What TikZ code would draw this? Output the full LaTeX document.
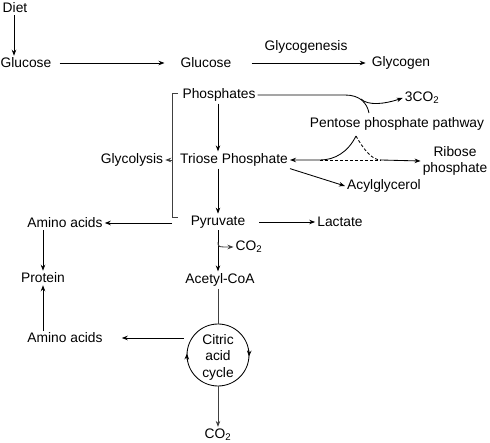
\documentclass[tikz,border=0pt]{standalone}
\usepackage{fontspec}
\setmainfont{Liberation Sans}
\usetikzlibrary{arrows.meta}
\begin{document}
\begin{tikzpicture}[x=1pt,y=-1pt,
  every node/.style={font=\fontsize{13.8}{16}\selectfont, inner sep=2pt},
  ln/.style={line width=0.85pt},
  arr/.style={ln,-{Stealth[length=6pt,width=4.5pt]}},
  gln/.style={line width=0.85pt, draw=black!75},
  garr/.style={gln,-{Stealth[length=6pt,width=4.5pt]}}]
\useasboundingbox (0,0) rectangle (490,443);
\node (diet) at (15,8) {Diet};
\node (glc1) at (26,63) {Glucose};
\node (glc2) at (206,63) {Glucose};
\node (glycogenesis) at (306,47) {Glycogenesis};
\node (glycogen) at (401,63) {Glycogen};
\node (phos) at (219,95) {Phosphates};
\node (co2a) at (422,98) {3CO\textsubscript{2}};
\node (ppp) at (397,124) {Pentose phosphate pathway};
\node (triose) at (234,160) {Triose Phosphate};
\node (glycolysis) at (132,160) {Glycolysis};
\node[align=center] (ribose) at (455,161) {Ribose\\phosphate};
\node (acyl) at (384,186) {Acylglycerol};
\node (pyr) at (218,222) {Pyruvate};
\node (lact) at (340,222) {Lactate};
\node (aa1) at (65,223) {Amino acids};
\node (co2b) at (249,247) {CO\textsubscript{2}};
\node (acetyl) at (220,280) {Acetyl-CoA};
\node (protein) at (43,278) {Protein};
\node (aa2) at (65,338) {Amino acids};
\node[circle, draw, ln, minimum size=62pt, inner sep=0pt] (tca) at (218,355) {};
\node[align=center, font=\fontsize{13.8}{16.5}\selectfont] (tcat) at (218,357) {Citric\\acid\\cycle};
\node (co2c) at (218,435) {CO\textsubscript{2}};
% connectors
\draw[arr] (diet.south -| 14,0) -- (glc1.north -| 14,0);
\draw[arr, shorten <=6pt, shorten >=14pt] (glc1.east) -- (glc2.west);
\draw[arr, shorten <=18pt, shorten >=4pt] (glc2.east) -- (glycogen.west);
\draw[arr] (phos.south -| 218,0) -- (triose.north -| 218,0);
% bracket
\coordinate (brtop) at (172,93);
\coordinate (brbot) at (172,217);
\draw[gln] ([xshift=6pt]brtop) -- (brtop) -- (brbot) -- ([xshift=6pt]brbot);
\draw[garr] (brtop |- glycolysis) -- (glycolysis.east);
% pentose branch
\coordinate (ppptop) at (369,113);
\coordinate (brk) at (361,99);
\draw[ln] (phos.east) -- (345,95) .. controls (360,95) and (367,103) .. (ppptop);
\draw[arr] (brk) .. controls (368,106) and (385,104) .. (co2a.west);
\coordinate (pppbot) at (356,136);
\coordinate (join) at (320,160);
\coordinate (split) at (381,160);
\draw[arr] (pppbot) .. controls (348,152) and (335,160) .. (join) -- (triose.east);
\draw[ln, dashed, dash pattern=on 3pt off 2pt] (pppbot) .. controls (364,150) and (372,160) .. (split);
\draw[ln, dashed, dash pattern=on 3pt off 2pt] (join) -- (split);
\draw[arr] (split) -- (ribose.west);
\draw[arr] (triose.south east) -- (acyl.west);
\draw[arr] (pyr.north |- triose.south) -- (pyr.north);
\draw[arr, shorten <=12pt] (pyr.east) -- (lact.west);
\coordinate (pyrleft) at (172,223);
\draw[arr] (pyrleft) -- (aa1.east);
\draw[arr] (pyr.south) -- (pyr.south |- acetyl.north);
\coordinate (co2bstart) at (218,242);
\draw[garr] (co2bstart) .. controls (218,247) .. (co2b.west);
\draw[gln] (acetyl.south -| tca.north) -- (tca.north);
\draw[garr] (tca.south) -- (co2c.north);
\draw[arr, shorten <=3pt, shorten >=17pt] (tca.west |- aa2) -- (aa2.east);
\draw[arr] (aa1.south -| protein) -- (protein.north);
\draw[arr] (aa2.north -| protein) -- (protein.south);
\draw[arr] (tca.center) ++(-12:31) arc[start angle=-12, end angle=3, radius=31];
\draw[arr] (tca.center) ++(168:31) arc[start angle=168, end angle=183, radius=31];
\end{tikzpicture}
\end{document}
